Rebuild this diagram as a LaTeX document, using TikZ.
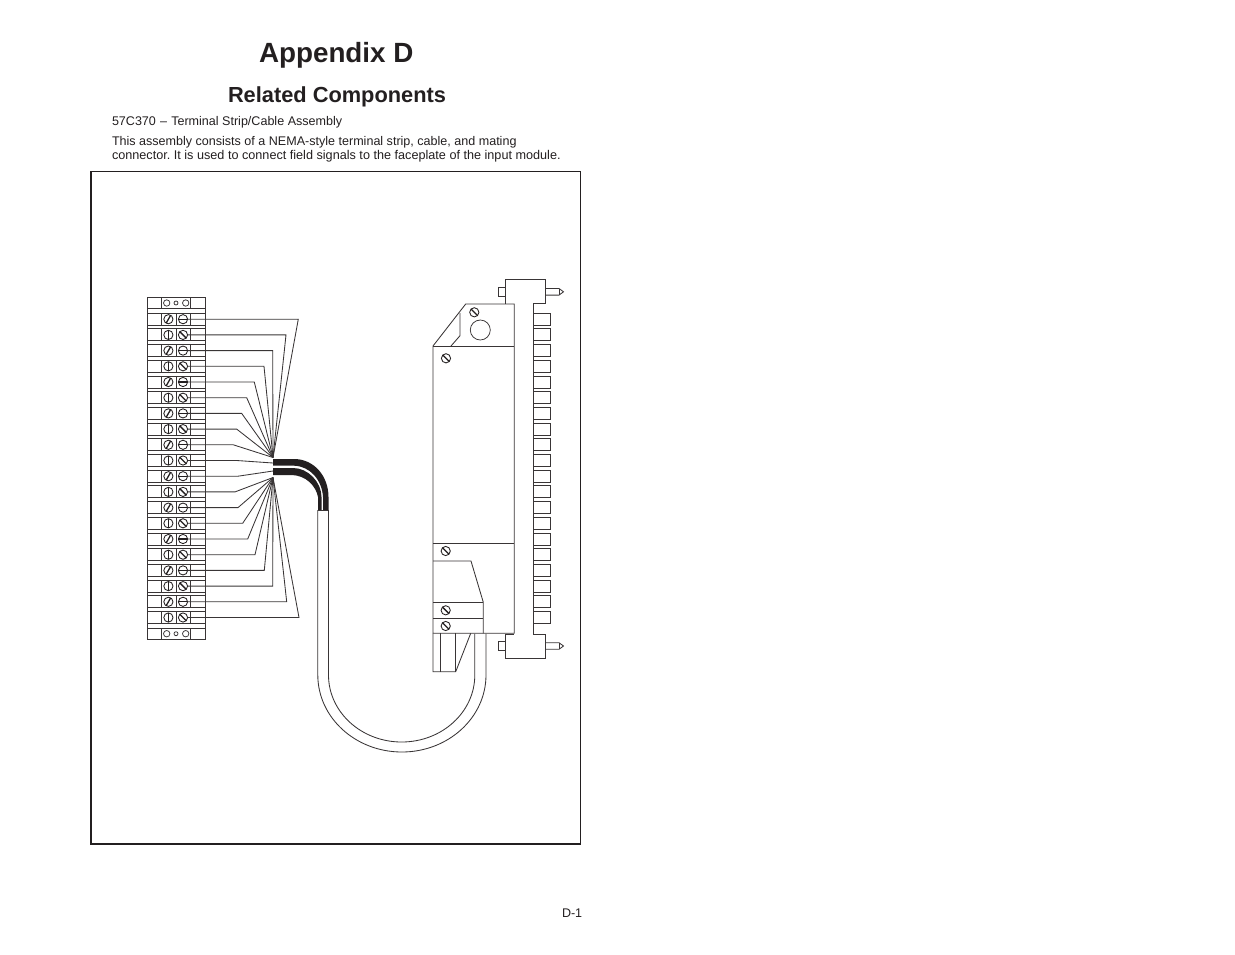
\documentclass[tikz,border=0pt]{standalone}
\usepackage{fontspec}
\setmainfont{Liberation Sans}
\definecolor{ink}{HTML}{231F20}
\tikzset{
  x=1pt,y=-1pt,
  ln/.style={draw=ink!90,line width=0.85pt,line join=miter},
  txt/.style={inner sep=0pt,outer sep=0pt,anchor=base west,text=ink},
  screw/.style={circle,draw=ink,line width=0.85pt,minimum size=9.2pt,inner sep=0pt,outer sep=0pt},
  hole/.style={circle,draw=ink!90,line width=0.75pt,inner sep=0pt,outer sep=0pt},
  slot/.style={draw=ink,line width=1.3pt},
}
\newcommand{\screwat}[3]{% name, position, angle
  \node[screw] (#1) at (#2) {};
  \draw[slot] (#1.#3) -- (#1.#3+180);
}
\begin{document}
\begin{tikzpicture}
\useasboundingbox (0,0) rectangle (1235,954);
% text
\node[txt,font=\bfseries\fontsize{27.8pt}{30pt}\selectfont] (title) at (259,62) {Appendix D};
\node[txt,font=\bfseries\fontsize{21.8pt}{24pt}\selectfont] (sub) at (228,102) {Related Components};
\node[txt,font=\fontsize{12.55pt}{14pt}\selectfont] (l1) at (112,125) {57C370\,\,--\,\,Terminal Strip/Cable Assembly};
\node[txt,font=\fontsize{12.55pt}{14pt}\selectfont] (l2) at (112,145) {This assembly consists of a NEMA-style terminal strip, cable, and mating};
\node[txt,font=\fontsize{12.65pt}{14pt}\selectfont\frenchspacing] (l3) at (112,159) {connector. It is used to connect field signals to the faceplate of the input module.};
\node[txt,font=\fontsize{12.55pt}{14pt}\selectfont] (pg) at (562,917) {D-1};
% frame
\draw[draw=ink,line width=1.4pt] (91,171.5) rectangle (580.5,844);
% terminal strip
\draw[ln] (147.3,297.3) -- (147.3,639.5) -- (205.7,639.5) -- (205.7,297.3) -- cycle;
\draw[ln] (147.3,308.5) -- (205.7,308.5) (147.3,628) -- (205.7,628);
\draw[ln] (161.7,297.3) -- (161.7,308.5) (190,297.3) -- (190,308.5) (161.7,628) -- (161.7,639.5) (190,628) -- (190,639.5);
\foreach \n/\yy in {t/303,b/633.7}{
  \node[hole,minimum size=6.4pt] (\n a) at (166.7,\yy) {};
  \node[hole,minimum size=4pt] (\n b) at (176,\yy) {};
  \node[hole,minimum size=6.4pt] (\n c) at (185.7,\yy) {};
}
\foreach \i in {1,...,20}{
  \pgfmathsetmacro{\yy}{319.2+15.7*(\i-1)}
  \draw[ln] (147.3,\yy-6) -- (205.7,\yy-6) (147.3,\yy+6) -- (205.7,\yy+6);
  \draw[ln] (161.7,\yy-6) -- (161.7,\yy+6) (176,\yy-6) -- (176,\yy+6) (190,\yy-6) -- (190,\yy+6);
  \ifodd\i
    \screwat{sl\i}{168.4,\yy}{60}
    \screwat{sr\i}{183,\yy}{0}
  \else
    \screwat{sl\i}{168.4,\yy}{90}
    \screwat{sr\i}{183,\yy}{135}
  \fi
}
% wires
\coordinate (hubA) at (273,457.5);
\coordinate (hubB) at (273,463);
\coordinate (hubC) at (273,471);
\coordinate (hubD) at (273,477.5);
\foreach \i/\ex/\h in {1/298.3/hubA,2/286/hubA,3/272.7/hubA,4/264/hubA,5/254.3/hubA,6/246.7/hubA,7/241.7/hubA,8/236.7/hubA,9/233.3/hubA,10/236.7/hubB,
  11/238/hubC,12/235/hubD,13/238/hubD,14/242.7/hubD,15/247.7/hubD,16/255/hubD,17/264.3/hubD,18/272.7/hubD,19/286.7/hubD,20/299/hubD}{
  \draw[ln] (sr\i.east) -- (\ex,{319.2+15.7*(\i-1)}) -- (\h);
}
% black cable
\fill[ink] (273,459) -- (294,459) .. controls (314,459) and (328.5,476) .. (328.5,497) -- (328.5,510) -- (323,510) -- (323,497) .. controls (322,480) and (310,466) .. (294,465.7) -- (273,465.7) -- cycle;
\fill[ink] (273,468) -- (293,468) .. controls (308,468) and (321.5,482) .. (321.5,497) -- (321.5,510) -- (318,510) -- (318,497) .. controls (316,486) and (306,475.5) .. (292,475) -- (273,475) -- cycle;
% sheathed cable
\coordinate (cabA) at (317.8,510);
\coordinate (cabB) at (328.5,510);
\coordinate (cabC) at (474.8,633.5);
\coordinate (cabD) at (486,633.5);
\draw[ln] (cabA) -- (cabB);
\draw[ln] (cabA) -- (317.8,675) arc[start angle=180,end angle=0,x radius=84.1,y radius=77] -- (cabD);
\draw[ln] (cabB) -- (328.5,675) arc[start angle=180,end angle=0,x radius=73.15,y radius=67] -- (cabC);
% module body
\draw[ln,fill=white] (465.7,304) -- (514.3,304) -- (514.3,633.3) -- (433,633.3) -- (433,346) -- cycle;
\draw[ln] (433,346) -- (514.3,346);
\draw[ln] (460,313) -- (460,335.7) -- (451,346);
\node[hole,minimum size=20pt] (knob) at (480.3,330) {};
\screwat{m1}{474.3,312.3}{135}
\screwat{m2}{446,358.3}{135}
\draw[ln] (433,543.3) -- (514.3,543.3);
\screwat{m3}{445.7,551}{135}
\draw[ln] (433,561) -- (471,561) -- (483.3,602.3) -- (483.3,633.3);
\draw[ln] (433,602.3) -- (483.3,602.3) (433,618.3) -- (483.3,618.3);
\screwat{m4}{445.7,610.3}{135}
\screwat{m5}{445.7,626}{135}
\draw[ln] (433,633.3) -- (433,671.7) -- (455.7,671.7) -- (470.7,633.3);
\draw[ln] (440.3,633.3) -- (440.3,671.7) (455.7,633.3) -- (455.7,671.7);
% bracket
\draw[ln] (505.7,304) -- (505.7,279.3) -- (545.7,279.3) -- (545.7,303.6) -- (533.7,303.6) -- (533.7,634) -- (545.7,634) -- (545.7,658.3) -- (505.7,658.3) -- (505.7,634) -- (514.3,634);
\foreach \yy in {291.8,646}{
  \draw[ln] (505.7,\yy-4.6) -- (498.3,\yy-4.6) -- (498.3,\yy+4.6) -- (505.7,\yy+4.6);
  \draw[ln] (545.7,\yy-3.3) -- (559,\yy-3.3) -- (563.5,\yy) -- (559,\yy+3.3) -- (545.7,\yy+3.3);
  \draw[ln] (559,\yy-3.3) -- (559,\yy+3.3);
}
\foreach \i in {1,...,20}{
  \pgfmathsetmacro{\yy}{319.2+15.7*(\i-1)}
  \draw[ln] (533.7,\yy-6) -- (550.7,\yy-6) -- (550.7,\yy+6) -- (533.7,\yy+6);
}
\end{tikzpicture}
\end{document}
